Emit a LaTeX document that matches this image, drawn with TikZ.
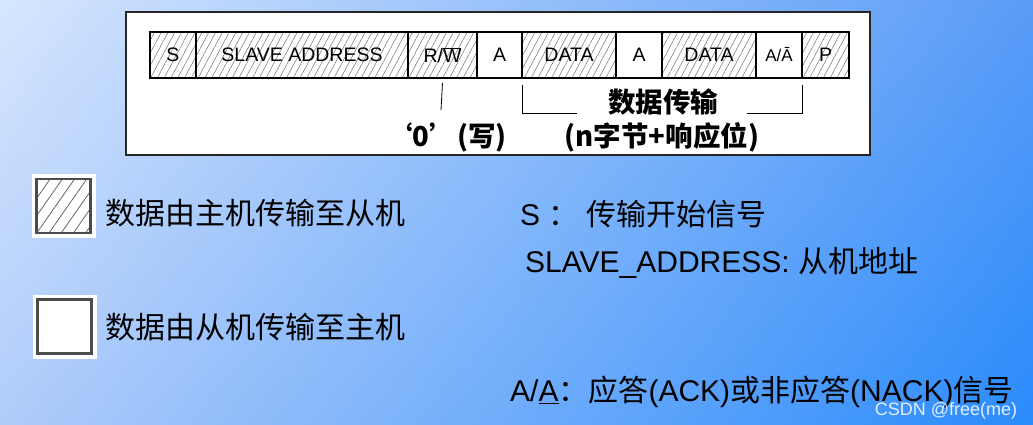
\documentclass[tikz,border=0pt]{standalone}
\usepackage{fontspec}
\setmainfont{Liberation Sans}
\newfontfamily\cjk{Noto Sans CJK SC}
\usetikzlibrary{positioning,patterns.meta,shadings}
\definecolor{bgtl}{HTML}{D6E6FE}
\definecolor{bgtr}{HTML}{5A9CF7}
\definecolor{bgbl}{HTML}{B0CCFA}
\definecolor{bgbr}{HTML}{2A8BFB}
\begin{document}
\begin{tikzpicture}
[ x=1pt, y=-1pt
, field/.style={rectangle, draw, line width=1.2pt, minimum height=46pt, inner sep=0pt, outer sep=0pt, font=\fontsize{19.5}{22}\selectfont}
, master/.style={field, pattern={Lines[angle=62,distance=6pt,line width=0.5pt]}, pattern color=black!55}
, slave/.style={field, fill=white}
, note/.style={inner sep=0pt, font=\cjk\bfseries\fontsize{27.5}{30}\selectfont}
, keybox/.style={rectangle, minimum size=54pt, draw=black!70, line width=2.5pt, preaction={draw=white, fill=white, line width=10pt}}
, legend/.style={anchor=west, inner sep=0pt, font=\fontsize{30}{35}\selectfont}
, bracket/.style={line width=0.8pt}
]
\useasboundingbox (0,0) rectangle (1033,425);
\shade [upper left=bgtl, upper right=bgtr, lower left=bgbl, lower right=bgbr] (0,0) rectangle (1033,425);
% Frame:
\draw [fill=white, line width=1.5pt, draw=black!85] (126,12) rectangle (870,155);
% Fields:
\node (start) [master, minimum width=46pt, anchor=west] at (150,55) {S};
\node (addr) [master, minimum width=212pt, right=0pt of start] {SLAVE ADDRESS};
\node (rw) [master, minimum width=69pt, right=0pt of addr] {R/$\overline{\hbox{W}}$};
\node (ack1) [slave, minimum width=45pt, right=0pt of rw] {A};
\node (data1) [master, minimum width=94pt, right=0pt of ack1] {DATA};
\node (ack2) [slave, minimum width=46pt, right=0pt of data1] {A};
\node (data2) [master, minimum width=94pt, right=0pt of ack2] {DATA};
\node (ack3) [slave, minimum width=46pt, right=0pt of data2, font=\fontsize{17}{19}\selectfont] {A/Ā};
\node (stop) [master, minimum width=47pt, right=0pt of ack3] {P};
% Notes under the fields:
\node (wr) [note] at (446,137) {‘0’(写)};
\node (xfer) [note] at (663,102) {数据传输};
\node (bytes) [note] at (662,137) {(n字节+响应位)};
\coordinate (zero) at (441,110);
\coordinate (bl) at (577,113);
\coordinate (br) at (747,113);
\draw [bracket] ([yshift=-5pt]rw.south) -- (zero);
\draw [bracket] ([yshift=-7pt]data1.south west) |- (bl);
\draw [bracket] ([yshift=-7pt]ack3.south east) |- (br);
% Legend:
\node (hostkey) [keybox, pattern={Lines[angle=55,distance=10pt,line width=0.8pt]}, pattern color=black!60] at (63.5,206) {};
\node (hostlbl) [legend] at (105,213) {\cjk 数据由主机传输至从机};
\node (slavekey) [keybox] at (64.5,326.5) {};
\node (slavelbl) [legend] at (105,327) {\cjk 数据由从机传输至主机};
\node (sdef) [legend] at (520,214) {S {\cjk ：}\hspace{8pt}{\cjk 传输开始信号}};
\node (adef) [legend] at (525,263) {SLAVE\_ADDRESS: {\cjk 从机地址}};
\node (kdef) [legend] at (510,392) {A/\underline{A}{\cjk ：应答}(ACK){\cjk 或非应答}(NACK){\cjk 信号}};
\node (mark) [inner sep=0pt, text=white, opacity=0.85, font=\fontsize{18}{20}\selectfont] at (946,411) {CSDN @free(me)};
\end{tikzpicture}
\end{document}
